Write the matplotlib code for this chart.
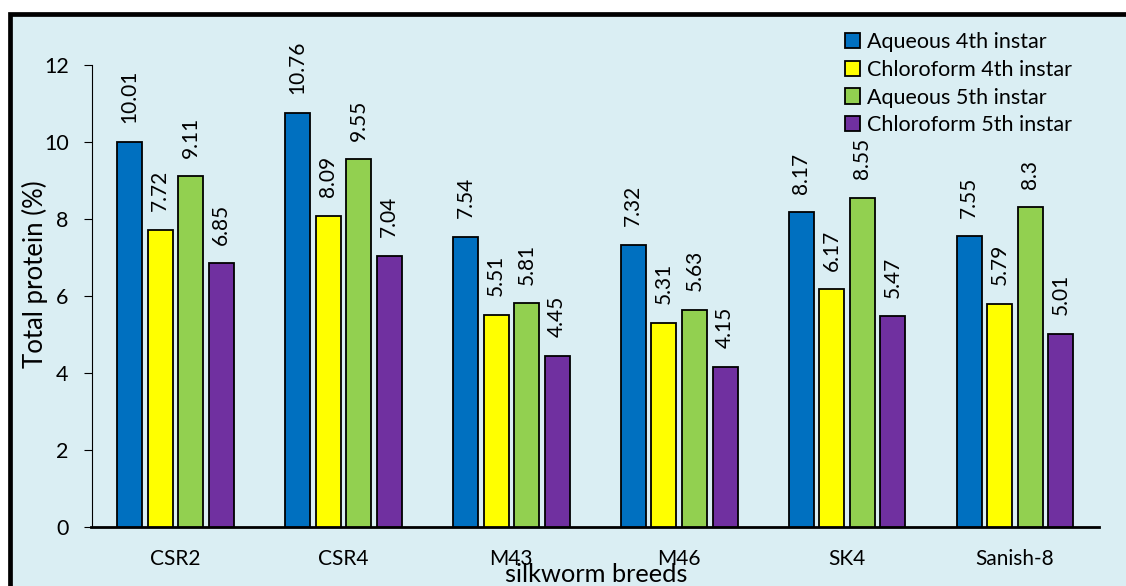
import numpy as np
import matplotlib.pyplot as plt
from matplotlib.patches import Rectangle, Patch

plt.rcParams['font.family'] = ['Lato', 'DejaVu Sans']

# data
breeds = ['CSR2', 'CSR4', 'M43', 'M46', 'SK4', 'Sanish-8']
aq4 = [10.01, 10.76, 7.54, 7.32, 8.17, 7.55]
ch4 = [7.72, 8.09, 5.51, 5.31, 6.17, 5.79]
aq5 = [9.11, 9.55, 5.81, 5.63, 8.55, 8.3]
ch5 = [6.85, 7.04, 4.45, 4.15, 5.47, 5.01]
series_names = ['Aqueous 4th instar', 'Chloroform 4th instar',
                'Aqueous 5th instar', 'Chloroform 5th instar']
colors = ['#0070C0', '#FFFF00', '#92D050', '#7030A0']

W, H = 1126, 586
fig = plt.figure(figsize=(W / 100, H / 100), dpi=100, facecolor='white')

# light blue chart area with heavy black frame (right/bottom run off the image)
frame = Rectangle((9.5 / W, -0.2), 1.3, 1 - 13.5 / H + 0.2, transform=fig.transFigure,
                  facecolor='#DAEEF3', edgecolor='black', linewidth=3.4, zorder=-5)
fig.patches.append(frame)

ax = fig.add_axes([91.5 / W, 1 - 527 / H, (1099 - 91.5) / W, (527 - 65) / H])
ax.set_zorder(2)
ax.patch.set_alpha(0)

x = np.arange(len(breeds))
pitch = 0.182
width = 0.149
for i, (vals, c) in enumerate(zip([aq4, ch4, aq5, ch5], colors)):
    pos = x + (i - 1.5) * pitch
    bars = ax.bar(pos, vals, width, color=c, edgecolor='black', linewidth=1.3, zorder=3)
    for b, v in zip(bars, vals):
        ax.annotate(f'{v:g}', (b.get_x() + b.get_width() / 2, v), xytext=(0, 13.5),
                    textcoords='offset points', rotation=90, ha='center', va='bottom',
                    fontsize=15)

ax.set_xlim(-0.5, 5.5)
ax.set_ylim(0, 12)
ax.set_yticks(range(0, 13, 2))
ax.set_xticks(x)
ax.set_xticklabels(breeds)
ax.tick_params(axis='x', length=0, pad=16, labelsize=15)
ax.tick_params(axis='y', length=5.5, width=0.8, pad=11, labelsize=15.5)
for s in ['top', 'right']:
    ax.spines[s].set_visible(False)
ax.spines['bottom'].set_linewidth(2)
ax.spines['left'].set_linewidth(0.8)

fig.text(35 / W, 1 - 274 / H, 'Total protein (%)', rotation=90, ha='center', va='center',
         fontsize=18.5)
fig.text(596 / W, 1 - 574 / H, 'silkworm breeds', ha='center', va='center', fontsize=18.3)

handles = [Patch(facecolor=c, edgecolor='black', linewidth=1.3) for c in colors]
fig.legend(handles, series_names, loc='upper left', bbox_to_anchor=(845 / W, 1 - 32 / H),
           frameon=False, fontsize=15.5, handlelength=0.7, handleheight=0.7,
           handletextpad=0.3, labelspacing=0.36, borderpad=0, borderaxespad=0)

fig.savefig('out.png', dpi=100, facecolor='white')
